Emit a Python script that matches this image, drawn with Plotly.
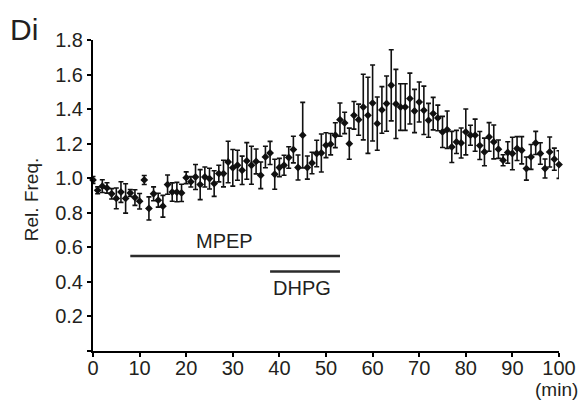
import plotly.graph_objects as go

time_min = list(range(0, 101))
rel_freq = [0.99, 0.93, 0.954, 0.944, 0.91, 0.883, 0.92, 0.883, 0.915, 0.888,
            0.867, 0.99, 0.825, 0.91, 0.873, 0.838, 0.963, 0.92, 0.92, 0.915,
            1.003, 0.979, 1.007, 0.963, 1.007, 0.998, 0.969, 1.027, 1.027, 1.094,
            1.06, 1.075, 1.046, 1.10, 1.075, 1.097, 1.017, 1.123, 1.146, 1.023,
            1.062, 1.075, 1.12, 1.166, 1.062, 1.249, 1.062, 1.088, 1.143, 1.146,
            1.191, 1.197, 1.249, 1.339, 1.32, 1.2, 1.364, 1.339, 1.412, 1.364,
            1.435, 1.316, 1.395, 1.432, 1.538, 1.43, 1.412, 1.412, 1.461, 1.389,
            1.441, 1.393, 1.335, 1.374, 1.349, 1.268, 1.281, 1.181, 1.21, 1.204,
            1.268, 1.249, 1.249, 1.189, 1.152, 1.239, 1.21, 1.168, 1.104, 1.149,
            1.143, 1.172, 1.162, 1.056, 1.123, 1.204, 1.143, 1.056, 1.152, 1.11,
            1.079]
sem = [0.02, 0.02, 0.037, 0.03, 0.03, 0.06, 0.06, 0.085, 0.02, 0.045,
       0.045, 0.026, 0.067, 0.04, 0.04, 0.063, 0.056, 0.053, 0.056, 0.05,
       0.034, 0.03, 0.072, 0.087, 0.058, 0.06, 0.074, 0.048, 0.077, 0.12,
       0.106, 0.087, 0.082, 0.106, 0.11, 0.072, 0.077, 0.062, 0.067, 0.087,
       0.053, 0.058, 0.062, 0.077, 0.072, 0.19, 0.067, 0.062, 0.077, 0.11,
       0.072, 0.062, 0.072, 0.096, 0.062, 0.09, 0.08, 0.09, 0.19, 0.22,
       0.22, 0.154, 0.135, 0.16, 0.206, 0.2, 0.135, 0.135, 0.147, 0.125,
       0.116, 0.14, 0.098, 0.094, 0.074, 0.09, 0.108, 0.09, 0.067, 0.087,
       0.133, 0.058, 0.093, 0.081, 0.08, 0.083, 0.098, 0.053, 0.032, 0.062,
       0.094, 0.069, 0.079, 0.067, 0.072, 0.067, 0.062, 0.055, 0.087, 0.064,
       0.08]

mpep_span = [8, 53]
mpep_level = 0.55
dhpg_span = [38, 53]
dhpg_level = 0.46

x_ticks = [0, 10, 20, 30, 40, 50, 60, 70, 80, 90, 100]
y_ticks = [0, 0.2, 0.4, 0.6, 0.8, 1.0, 1.2, 1.4, 1.6, 1.8]
y_ticktext = ["", "0.2", "0.4", "0.6", "0.8", "1.0", "1.2", "1.4", "1.6", "1.8"]

FONT = "Liberation Sans, Arial, sans-serif"
TXT = "#231f20"

fig = go.Figure()

fig.add_trace(go.Scatter(
    x=time_min, y=rel_freq, mode="markers",
    marker=dict(symbol="diamond", size=6, color="#111111"),
    error_y=dict(type="data", array=sem, visible=True, color="#111111",
                 thickness=1.6, width=2.5),
    cliponaxis=False, showlegend=False))

fig.add_trace(go.Scatter(
    x=mpep_span, y=[mpep_level, mpep_level], mode="lines",
    line=dict(color="#2b2b2b", width=2.5), showlegend=False, hoverinfo="skip"))
fig.add_trace(go.Scatter(
    x=dhpg_span, y=[dhpg_level, dhpg_level], mode="lines",
    line=dict(color="#2b2b2b", width=2.5), showlegend=False, hoverinfo="skip"))

fig.add_annotation(x=28.3, y=0.635, xref="x", yref="y", text="MPEP",
                   showarrow=False, font=dict(family=FONT, size=20, color=TXT))
fig.add_annotation(x=44.8, y=0.362, xref="x", yref="y", text="DHPG",
                   showarrow=False, font=dict(family=FONT, size=20, color=TXT))

fig.add_annotation(x=-0.182, y=1.035, xref="paper", yref="paper", text="Di",
                   xanchor="left", yanchor="middle", showarrow=False,
                   font=dict(family=FONT, size=30, color=TXT))
fig.add_annotation(x=1.045, y=-0.124, xref="paper", yref="paper", text="(min)",
                   xanchor="right", yanchor="middle", showarrow=False,
                   font=dict(family=FONT, size=19, color=TXT))
fig.add_annotation(x=-0.133, y=0.485, xref="paper", yref="paper", text="Rel. Freq.",
                   textangle=-90, showarrow=False, xanchor="center", yanchor="middle",
                   font=dict(family=FONT, size=19, color=TXT))

fig.update_layout(
    width=581, height=406,
    margin=dict(l=93, r=22, t=40, b=55),
    paper_bgcolor="white", plot_bgcolor="white",
    font=dict(family=FONT, size=20, color=TXT),
    xaxis=dict(range=[0, 100], tickvals=x_ticks, ticks="outside", ticklen=4,
               tickwidth=1.5, tickcolor="black", showline=True, linecolor="black",
               linewidth=2, showgrid=False, zeroline=False, automargin=False,
               ticklabelstandoff=-6,
               tickfont=dict(family=FONT, size=20, color=TXT)),
    yaxis=dict(range=[0, 1.8], tickvals=y_ticks, ticktext=y_ticktext,
               ticks="outside", ticklen=4, tickwidth=1.5, tickcolor="black",
               showline=True, linecolor="black", linewidth=2, showgrid=False,
               zeroline=False, automargin=False,
               tickfont=dict(family=FONT, size=20, color=TXT)),
)

fig.write_html("out.html")
